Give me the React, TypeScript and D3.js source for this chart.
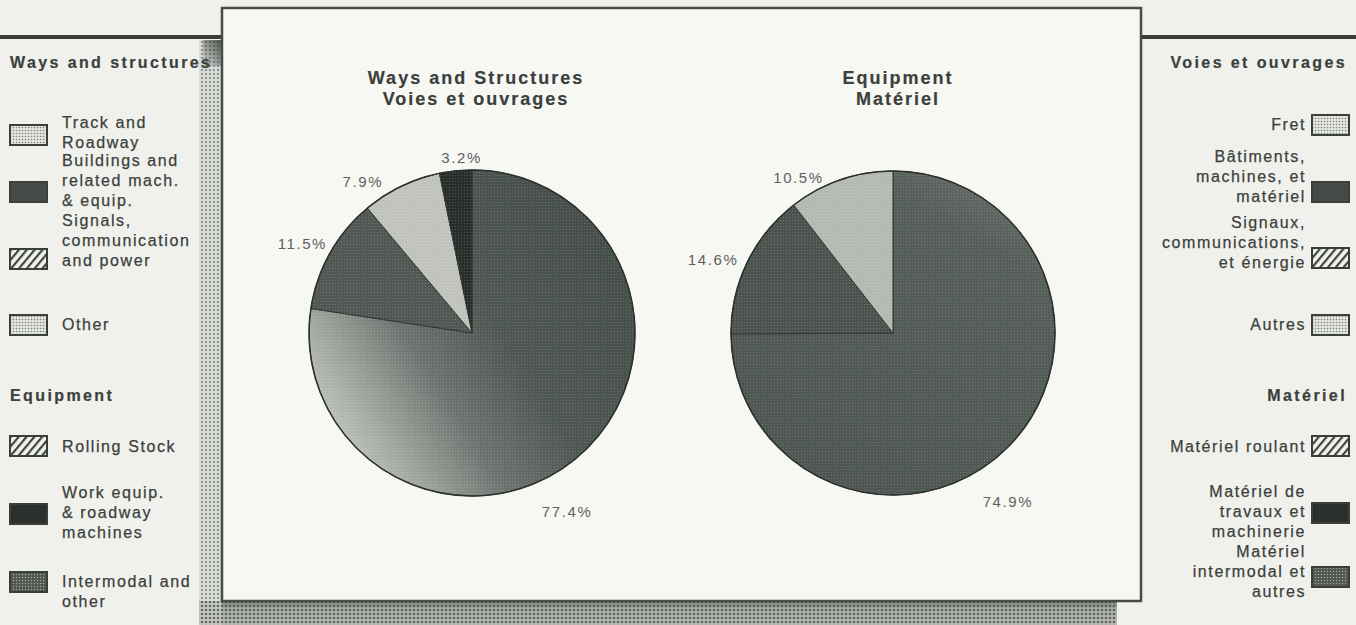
import React from "react";
import * as d3 from "d3";

// ---- data ----
const waysCategories = [
  "Track and Roadway",
  "Signals, communication and power",
  "Other",
  "Buildings and related mach. & equip.",
];
const waysValues = [77.4, 11.5, 7.9, 3.2];
const equipCategories = ["Rolling Stock", "Intermodal and other", "Work equip. & roadway machines"];
const equipValues = [74.9, 14.6, 10.5];

const pieTitlesLeft = ["Ways and Structures", "Voies et ouvrages"];
const pieTitlesRight = ["Equipment", "Matériel"];

const leftHeadings = ["Ways and structures", "Equipment"];
const rightHeadings = ["Voies et ouvrages", "Matériel"];
const leftLegendItems = [
  ["Track and", "Roadway"],
  ["Buildings and", "related mach.", "& equip."],
  ["Signals,", "communication", "and power"],
  ["Other"],
  ["Rolling Stock"],
  ["Work equip.", "& roadway", "machines"],
  ["Intermodal and", "other"],
];
const rightLegendItems = [
  ["Fret"],
  ["Bâtiments,", "machines, et", "matériel"],
  ["Signaux,", "communications,", "et énergie"],
  ["Autres"],
  ["Matériel roulant"],
  ["Matériel de", "travaux et", "machinerie"],
  ["Matériel", "intermodal et", "autres"],
];
const legendSwatchKinds = ["dotLight", "dark", "hatch", "dotLight", "hatch", "darkest", "dotDark"];

// ---- layout / style ----
const W = 1356;
const H = 625;
const FONT = "'Liberation Sans', Arial, Helvetica, sans-serif";
const TEXT = "#3b403c";
const LINE_H = 20;

const leftHeadingY = [68, 401];
const rightHeadingY = [68, 401];
const leftFirstBaselines = [128, 166, 226, 330, 452, 498, 587];
const leftSwatchCenters = [135, 192, 259, 325, 446, 514, 582];
const rightFirstBaselines = [130, 162, 228, 330, 452, 497, 557];
const rightSwatchCenters = [125, 192, 258, 325, 446, 513, 577];

const swatchFill: Record<string, string> = {
  dotLight: "url(#swDotLight)",
  dark: "#454b47",
  hatch: "url(#swHatch)",
  darkest: "#2b302d",
  dotDark: "url(#swDotDark)",
};

const leftSliceFills = ["url(#gradBigL)", "#515853", "#c0c3bd", "#2a2e2b"];
const rightSliceFills = ["url(#gradBigR)", "#4c534e", "#b4b9b3"];
// label placement tweaks (degrees, px)
const leftLabelNudge = [14.7, 0.7, -8.3, 2.6];
const leftLabelGap = [29, 8, 12, 6];
const rightLabelNudge = [13.2, -1.9, -10.1];
const rightLabelGap = [30, 10, 8];

function Pie({ cx, cy, r, values, fills, nudges, gaps, titles, titleX }: any) {
  const pie = d3.pie<number>().sort(null).value((d) => d);
  const arcs = pie(values);
  const arcGen = d3.arc<d3.PieArcDatum<number>>().innerRadius(0).outerRadius(r);
  const fmt = d3.format(".1f");
  return (
    <g>
      {titles.map((t: string, i: number) => (
        <text
          key={t}
          x={titleX}
          y={84 + i * 21}
          textAnchor="middle"
          fontFamily={FONT}
          fontWeight="bold"
          fontSize={18}
          letterSpacing={2}
          fill={TEXT}
          stroke={TEXT}
          strokeWidth={0.2}
        >
          {t}
        </text>
      ))}
      <g transform={`translate(${cx},${cy})`}>
        {arcs.map((a, i) => (
          <path key={i} d={arcGen(a) || ""} fill={fills[i]} stroke="#2f3430" strokeWidth={1} />
        ))}
        {arcs.map((a, i) => (
          <path key={"h" + i} d={arcGen(a) || ""} fill="url(#halftone)" />
        ))}
        <circle r={r} fill="none" stroke="#2c312d" strokeWidth={1.5} />
        {arcs.map((a, i) => {
          const ang = (a.startAngle + a.endAngle) / 2 + (nudges[i] * Math.PI) / 180;
          const label = fmt(a.data) + "%";
          const hw = label.length * 5;
          const hh = 7;
          const R = r + gaps[i];
          const x = R * Math.sin(ang) + Math.sin(ang) * hw;
          const y = -R * Math.cos(ang) - Math.cos(ang) * hh;
          return (
            <text
              key={"l" + i}
              x={x}
              y={y}
              dy="0.35em"
              textAnchor="middle"
              fontFamily={FONT}
              fontSize={15}
              letterSpacing={1.6}
              fill="#5d625e"
            >
              {label}
            </text>
          );
        })}
      </g>
    </g>
  );
}

function LegendText({ lines, x, y0, anchor }: any) {
  return (
    <text
      fontFamily={FONT}
      fontSize={16}
      letterSpacing={1.6}
      fill={TEXT}
      stroke={TEXT}
      strokeWidth={0.25}
      textAnchor={anchor}
    >
      {lines.map((l: string, i: number) => (
        <tspan key={i} x={x} y={y0 + i * LINE_H}>
          {l}
        </tspan>
      ))}
    </text>
  );
}

export default function App() {
  const swW = 37;
  const swH = 20;
  return (
    <svg
      width={W}
      height={H}
      viewBox={`0 0 ${W} ${H}`}
      style={{ position: "absolute", left: 0, top: 0, display: "block" }}
    >
      <defs>
        <pattern id="halftone" width="3" height="3" patternUnits="userSpaceOnUse">
          <circle cx="1.5" cy="1.5" r="0.6" fill="#ffffff" opacity="0.2" />
        </pattern>
        <pattern id="swDotLight" width="3" height="3" patternUnits="userSpaceOnUse">
          <rect width="3" height="3" fill="#e2e4df" />
          <circle cx="1.5" cy="1.5" r="0.8" fill="#7d827d" />
        </pattern>
        <pattern id="swDotDark" width="3" height="3" patternUnits="userSpaceOnUse">
          <rect width="3" height="3" fill="#50574f" />
          <circle cx="1.5" cy="1.5" r="0.7" fill="#a9ada8" />
        </pattern>
        <pattern id="swHatch" width="6" height="6" patternUnits="userSpaceOnUse" patternTransform="rotate(40)">
          <rect width="6" height="6" fill="#f2f3ef" />
          <rect width="2.2" height="6" fill="#3f4540" />
        </pattern>
        <pattern id="shadowDots" width="4" height="4" patternUnits="userSpaceOnUse">
          <rect width="4" height="4" fill="#c4c7c2" />
          <circle cx="2" cy="2" r="1.3" fill="#646964" />
        </pattern>
        <pattern id="shadowDotsLight" width="4" height="4" patternUnits="userSpaceOnUse">
          <rect width="4" height="4" fill="#d9dbd6" />
          <circle cx="2" cy="2" r="1.1" fill="#7e837e" />
        </pattern>
        <linearGradient id="shadowBottom" x1="0" y1="0" x2="0" y2="1">
          <stop offset="0" stopColor="#3c413d" stopOpacity="0.5" />
          <stop offset="0.35" stopColor="#3c413d" stopOpacity="0.18" />
          <stop offset="1" stopColor="#3c413d" stopOpacity="0.08" />
        </linearGradient>
        <linearGradient id="cornerShade" x1="1" y1="0" x2="0" y2="1">
          <stop offset="0" stopColor="#363b37" stopOpacity="0.85" />
          <stop offset="1" stopColor="#363b37" stopOpacity="0" />
        </linearGradient>
        <linearGradient id="gradBigL" x1="0.02" y1="0.85" x2="0.95" y2="0.25">
          <stop offset="0" stopColor="#d0d3cd" />
          <stop offset="0.18" stopColor="#a2a7a1" />
          <stop offset="0.38" stopColor="#6c736e" />
          <stop offset="0.6" stopColor="#4f5752" />
          <stop offset="1" stopColor="#464e49" />
        </linearGradient>
        <linearGradient id="gradBigR" x1="0.9" y1="0" x2="0.3" y2="1">
          <stop offset="0" stopColor="#69706b" />
          <stop offset="0.22" stopColor="#565e59" />
          <stop offset="1" stopColor="#4e5651" />
        </linearGradient>
      </defs>

      <rect width={W} height={H} fill="#f0f1ec" />

      {/* drop shadow of the panel */}
      <rect x={199} y={40} width={23} height={585} fill="url(#shadowDotsLight)" />
      <rect x={199} y={601} width={918} height={24} fill="url(#shadowDots)" />
      <rect x={222} y={601} width={895} height={24} fill="url(#shadowBottom)" />
      <rect x={203} y={40} width={19} height={26} fill="url(#cornerShade)" />

      {/* rules */}
      <line x1={0} x2={222} y1={37} y2={37} stroke="#3a3e3a" strokeWidth={4} />
      <line x1={1141} x2={W} y1={37} y2={37} stroke="#3a3e3a" strokeWidth={4} />

      {/* panel */}
      <rect x={222} y={8} width={919} height={593} fill="#f7f8f4" stroke="#474c48" strokeWidth={2.5} />

      <Pie
        cx={472}
        cy={333}
        r={163}
        values={waysValues}
        fills={leftSliceFills}
        nudges={leftLabelNudge}
        gaps={leftLabelGap}
        titles={pieTitlesLeft}
        titleX={476}
      />
      <Pie
        cx={893}
        cy={333}
        r={162}
        values={equipValues}
        fills={rightSliceFills}
        nudges={rightLabelNudge}
        gaps={rightLabelGap}
        titles={pieTitlesRight}
        titleX={898}
      />

      {/* left legend */}
      {leftHeadings.map((h, i) => (
        <text
          key={h}
          x={10}
          y={leftHeadingY[i]}
          fontFamily={FONT}
          fontWeight="bold"
          fontSize={16}
          letterSpacing={2.4}
          fill={TEXT}
          stroke={TEXT}
          strokeWidth={0.2}
        >
          {h}
        </text>
      ))}
      {leftLegendItems.map((lines, i) => (
        <g key={"ll" + i}>
          <rect
            x={10}
            y={leftSwatchCenters[i] - swH / 2}
            width={swW}
            height={swH}
            fill={swatchFill[legendSwatchKinds[i]]}
            stroke="#3a3f3b"
            strokeWidth={2}
          />
          <LegendText lines={lines} x={62} y0={leftFirstBaselines[i]} anchor="start" />
        </g>
      ))}

      {/* right legend */}
      {rightHeadings.map((h, i) => (
        <text
          key={h}
          x={1347}
          y={rightHeadingY[i]}
          textAnchor="end"
          fontFamily={FONT}
          fontWeight="bold"
          fontSize={16}
          letterSpacing={2.4}
          fill={TEXT}
          stroke={TEXT}
          strokeWidth={0.2}
        >
          {h}
        </text>
      ))}
      {rightLegendItems.map((lines, i) => (
        <g key={"rl" + i}>
          <rect
            x={1312}
            y={rightSwatchCenters[i] - swH / 2}
            width={swW}
            height={swH}
            fill={swatchFill[legendSwatchKinds[i]]}
            stroke="#3a3f3b"
            strokeWidth={2}
          />
          <LegendText lines={lines} x={1306} y0={rightFirstBaselines[i]} anchor="end" />
        </g>
      ))}
    </svg>
  );
}
